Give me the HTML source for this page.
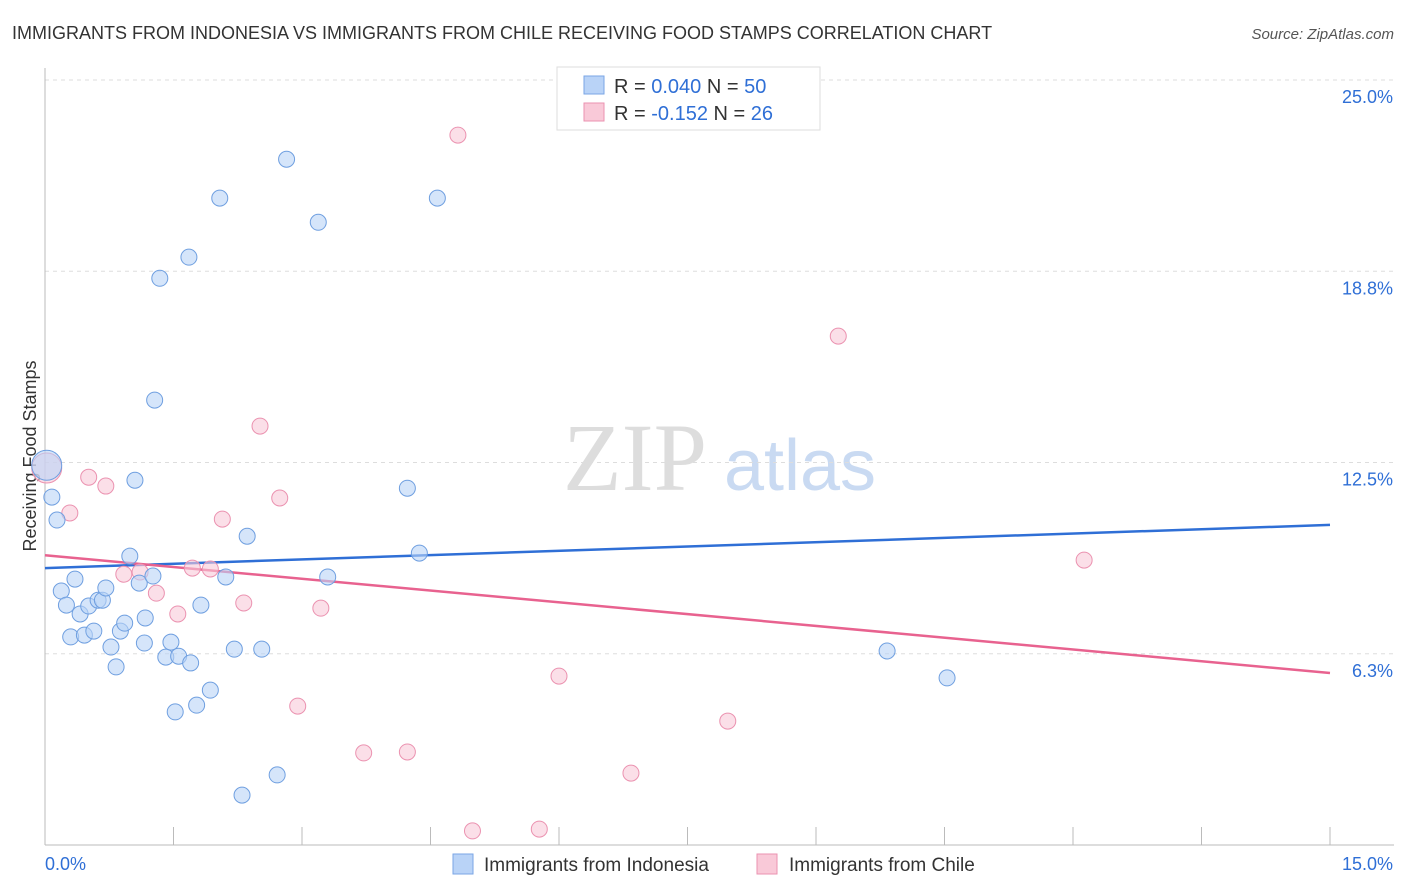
<!DOCTYPE html>
<html><head><meta charset="utf-8"><style>
body{margin:0;background:#fff;font-family:"Liberation Sans",sans-serif;}
#wrap{position:relative;width:1406px;height:892px;overflow:hidden;}
</style></head><body>
<div id="wrap">
<svg id="svg" width="1406" height="892" xmlns="http://www.w3.org/2000/svg">
<text x="12" y="39" font-size="18" fill="#333">IMMIGRANTS FROM INDONESIA VS IMMIGRANTS FROM CHILE RECEIVING FOOD STAMPS CORRELATION CHART</text>
<text x="1394" y="39" font-size="15" fill="#555" text-anchor="end" font-style="italic">Source: ZipAtlas.com</text>
<text x="36" y="456" font-size="18" fill="#333" text-anchor="middle" transform="rotate(-90 36 456)">Receiving Food Stamps</text>
<g><text x="635" y="490" font-size="96" font-family="Liberation Serif" fill="#ddd" text-anchor="middle">ZIP</text><text x="800" y="490" font-size="72" fill="#c9daf2" text-anchor="middle">atlas</text></g>
<g id="grid"></g><g id="axes"></g><g id="lines"></g><g id="pts"></g>
<g>
<rect x="557" y="67" width="263" height="63" fill="#fff" stroke="#ddd"/>
<rect x="584" y="76" width="20" height="18" fill="#b9d3f7" stroke="#7aa6e6"/>
<text x="614" y="93" font-size="20" fill="#333">R = <tspan fill="#2f6fd6">0.040</tspan>   N = <tspan fill="#2f6fd6">50</tspan></text>
<rect x="584" y="103" width="20" height="18" fill="#f9c9d8" stroke="#eb92b0"/>
<text x="614" y="120" font-size="20" fill="#333">R = <tspan fill="#2f6fd6">-0.152</tspan>   N = <tspan fill="#2f6fd6"> 26</tspan></text>
</g>
<g>
<rect x="453" y="854" width="20" height="20" fill="#b9d3f7" stroke="#7aa6e6"/>
<text x="484" y="871" font-size="19" fill="#333">Immigrants from Indonesia</text>
<rect x="757" y="854" width="20" height="20" fill="#f9c9d8" stroke="#eb92b0"/>
<text x="789" y="871" font-size="19" fill="#333">Immigrants from Chile</text>
</g>
</svg>
</div>
<script>
const yTicks=[25,18.75,12.5,6.25];
const yTickLabels=["25.0%","18.8%","12.5%","6.3%"];
const xEndLabels=["0.0%","15.0%"];
const blueX=[0.08,0.14,0.19,0.25,0.30,0.35,0.41,0.46,0.51,0.57,0.62,0.67,0.71,0.77,0.83,0.88,0.93,0.99,1.05,1.10,1.17,1.16,1.26,1.28,1.34,1.41,1.47,1.52,1.56,1.68,1.70,1.77,1.82,1.93,2.04,2.11,2.21,2.30,2.36,2.53,2.71,2.82,3.19,3.30,4.23,4.37,4.58,9.83,10.53,0.02];
const blueY=[11.37,10.62,8.30,7.84,6.80,8.69,7.55,6.86,7.81,6.99,8.00,8.00,8.40,6.47,5.82,6.99,7.25,9.44,11.92,8.56,7.42,6.60,8.79,14.54,18.52,6.14,6.63,4.35,6.17,19.21,5.95,4.57,7.84,5.06,21.14,8.76,6.40,1.63,10.09,6.40,2.29,22.41,20.35,8.76,11.66,9.54,21.14,6.34,5.46,12.41];
const pinkX=[0.02,0.29,0.51,0.71,0.92,1.11,1.30,1.55,1.72,1.93,2.07,2.32,2.51,2.74,2.95,3.22,3.72,4.23,4.82,4.99,5.77,6.00,6.84,7.97,9.26,12.13];
const pinkY=[12.32,10.85,12.02,11.73,8.85,8.92,8.23,7.55,9.05,9.02,10.65,7.91,13.69,11.34,4.54,7.74,3.01,3.04,23.20,0.46,0.52,5.52,2.35,4.05,16.63,9.31];
const blueTrend=[9.05,10.46];
const pinkTrend=[9.47,5.62];
const NS="http://www.w3.org/2000/svg";
const X0=45,X1=1330,Y0=845,Y25=80;
const sx=v=>X0+(X1-X0)*v/15;
const sy=v=>Y0-(Y0-Y25)*v/25;
function mk(t,a,p){const e=document.createElementNS(NS,t);for(const k in a)e.setAttribute(k,a[k]);p.appendChild(e);return e;}
const grid=document.getElementById('grid'),axes=document.getElementById('axes'),lines=document.getElementById('lines'),pts=document.getElementById('pts');
yTicks.forEach((v,i)=>{
 const l=mk('line',{x1:X0,x2:1394,y1:sy(v),y2:sy(v),stroke:'#ddd','stroke-dasharray':'4,4'},grid);
 
 
 const t=mk('text',{x:1393,y:sy(v)+23,'font-size':18,fill:'#2f6fd6','text-anchor':'end'},axes);t.textContent=yTickLabels[i];
 
 
});
const ax=mk('line',{x1:X0,x2:1394,y1:Y0,y2:Y0,stroke:'#bbb'},axes);


const ay=mk('line',{x1:X0,x2:X0,y1:68,y2:Y0,stroke:'#bbb'},axes);


for(let i=0;i<=10;i++){const tk=mk('line',{x1:sx(i*1.5),x2:sx(i*1.5),y1:Y0,y2:Y0-18,stroke:'#bbb'},axes);
 
 }
[[0,'start',45],[15,'end',1393]].forEach((d,i)=>{const t=mk('text',{x:d[2],y:870,'font-size':18,fill:'#2f6fd6','text-anchor':d[1]},axes);t.textContent=xEndLabels[i];
 
 });
function drawPts(xs,ys,fill,stroke,name){xs.forEach((x,i)=>{const big=i===xs.length-1&&name==='indonesia'||i===0&&name==='chile';
 const c=mk('circle',{cx:sx(x),cy:sy(ys[i]),r:big?15:8,fill:fill,'fill-opacity':0.6,stroke:stroke,'stroke-width':1},pts);
 
 });}
drawPts(pinkX,pinkY,'#f9c9d8','#eb92b0','chile');
drawPts(blueX,blueY,'#b9d3f7','#6f9fe0','indonesia');
const bl=mk('line',{x1:sx(0),x2:sx(15),y1:sy(blueTrend[0]),y2:sy(blueTrend[1]),stroke:'#2f6fd6','stroke-width':2.5},lines);


const pl=mk('line',{x1:sx(0),x2:sx(15),y1:sy(pinkTrend[0]),y2:sy(pinkTrend[1]),stroke:'#e8628f','stroke-width':2.5},lines);


</script>
</body></html>
